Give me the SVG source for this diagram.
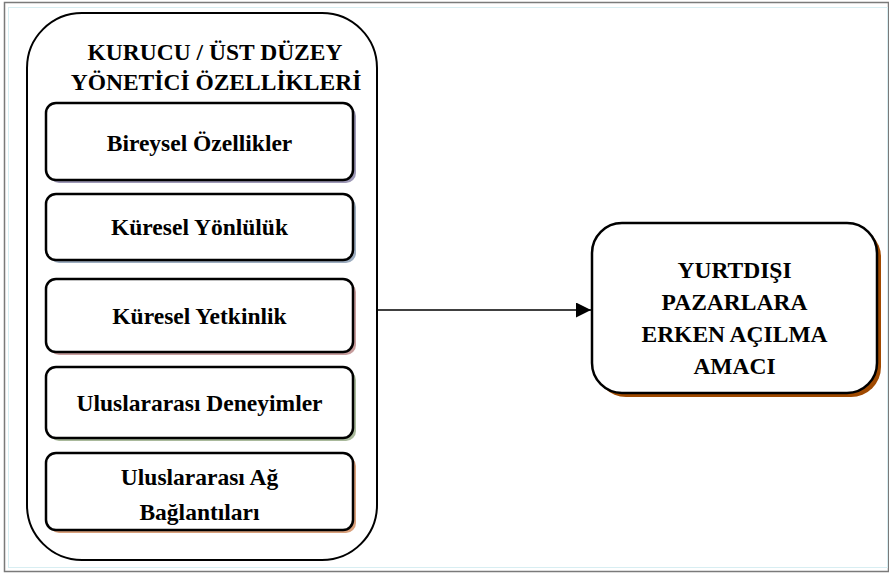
<svg xmlns="http://www.w3.org/2000/svg" width="889" height="574" viewBox="0 0 889 574">
<defs>
<style>
text{font-family:"Liberation Serif","Times New Roman",serif;font-weight:bold;font-size:23.5px;fill:#000;text-anchor:middle}
.box{fill:#fff;stroke:#000;stroke-width:2.5}
.conn{stroke:#000;stroke-width:1.5;fill:none}
</style>
<marker id="arr" markerWidth="15" markerHeight="15" refX="15" refY="7.5" orient="auto" markerUnits="userSpaceOnUse">
<path d="M0,0 L15,7.5 L0,15 Z" fill="#000"/>
</marker>
</defs>
<rect x="0" y="0" width="889" height="574" fill="#fff"/>
<rect x="4.5" y="2.5" width="884" height="569" fill="none" stroke="#7a7a7a" stroke-width="1.5"/>
<rect x="8.5" y="7.5" width="879" height="560" fill="none" stroke="#d8eef2" stroke-width="1"/>
<g id="container">
<rect x="27" y="13" width="350" height="547" rx="55" ry="55" fill="#fff" stroke="#000" stroke-width="2"/>
<text x="215" y="60">KURUCU / ÜST DÜZEY</text>
<text x="216" y="90">YÖNETİCİ ÖZELLİKLERİ</text>
</g>
<g id="n1">
<rect x="49" y="106" width="307" height="77" rx="10" fill="#9d98b6"/>
<rect class="box" x="46" y="103" width="307" height="77" rx="10"/>
<text x="199.5" y="151">Bireysel Özellikler</text>
</g>
<g id="n2">
<rect x="49" y="197" width="307" height="66" rx="10" fill="#9cacbf"/>
<rect class="box" x="46" y="194" width="307" height="66" rx="10"/>
<text x="199.5" y="235">Küresel Yönlülük</text>
</g>
<g id="n3">
<rect x="49" y="282" width="307" height="73" rx="10" fill="#c79d9d"/>
<rect class="box" x="46" y="279" width="307" height="73" rx="10"/>
<text x="199.5" y="324">Küresel Yetkinlik</text>
</g>
<g id="n4">
<rect x="49" y="370" width="307" height="71" rx="10" fill="#a9b99b"/>
<rect class="box" x="46" y="367" width="307" height="71" rx="10"/>
<text x="199.5" y="411">Uluslararası Deneyimler</text>
</g>
<g id="n5">
<rect x="49" y="456" width="307" height="77" rx="10" fill="#d9a07c"/>
<rect class="box" x="46" y="453" width="307" height="77" rx="10"/>
<text x="199.5" y="485">Uluslararası Ağ</text>
<text x="199.5" y="520">Bağlantıları</text>
</g>
<g id="target">
<rect x="596" y="227" width="285" height="170" rx="30" fill="#a04a00"/>
<rect class="box" x="592" y="223" width="285" height="170" rx="30"/>
<text x="734.5" y="278">YURTDIŞI</text>
<text x="734.5" y="310">PAZARLARA</text>
<text x="734.5" y="342">ERKEN AÇILMA</text>
<text x="734.5" y="374">AMACI</text>
</g>
<g id="connectors">
<line class="conn" x1="378" y1="310" x2="591" y2="310" marker-end="url(#arr)"/>
</g>
</svg>
